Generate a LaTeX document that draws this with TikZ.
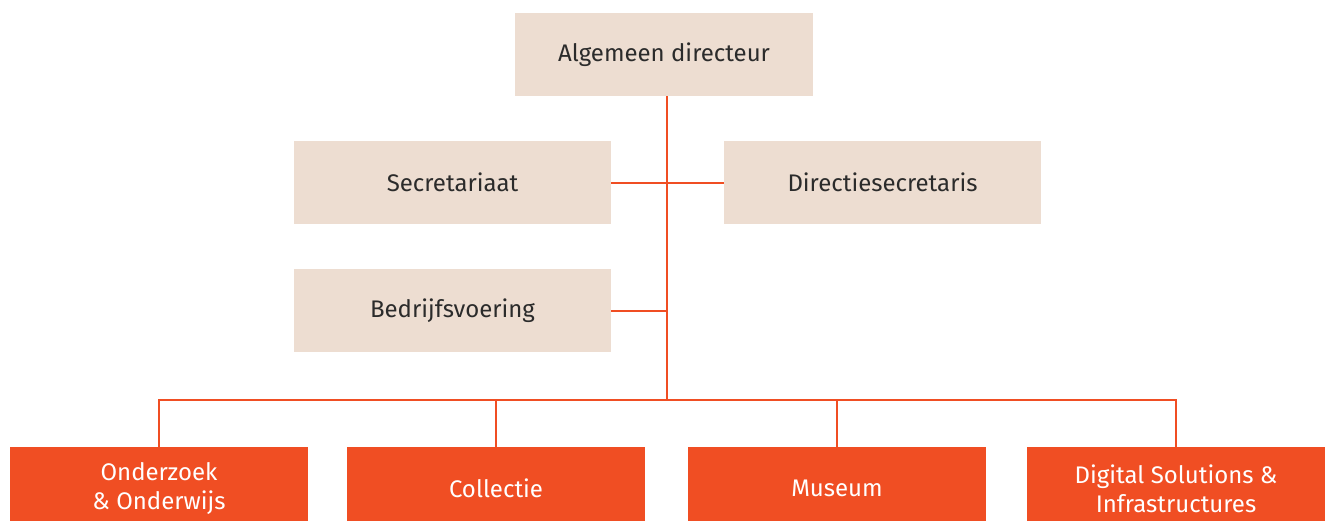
\documentclass[tikz,border=0pt]{standalone}
\usepackage{fontspec}
\setmainfont{Fira Sans}
\usepackage{xcolor}
\usetikzlibrary{positioning,calc}
\definecolor{beige}{HTML}{EDDDD1}
\definecolor{oranje}{HTML}{F04E23}
\definecolor{ink}{HTML}{2B2B2B}
\begin{document}
\begin{tikzpicture}[x=1pt, y=-1pt]
  \tikzset{
    staf/.style={fill=beige, text=ink, minimum width=317pt, minimum height=83pt, inner sep=0pt, font=\fontsize{24}{28}\selectfont, align=center},
    top/.style={staf, minimum width=298pt},
    afd/.style={fill=oranje, text=white, minimum width=298pt, minimum height=83pt, inner sep=0pt, font=\fontsize{24}{29}\selectfont, align=center},
    link/.style={draw=oranje, line width=2pt}
  }
  \useasboundingbox (0,0) rectangle (1325,520);
  \clip (0,0) rectangle (1325,520);

  \def\busy{400}

  % directie
  \node[top] (dir) at (664,54.5) {Algemeen directeur};
  \node[staf] (sec) at (452.5,182.5) {Secretariaat};
  \node[staf] (dsec) at (882.5,182.5) {Directiesecretaris};
  \node[staf] (bdv) at (452.5,310.5) {Bedrijfsvoering};

  % afdelingen
  \node[afd] (ond) at (159,488.5) {Onderzoek\\\& Onderwijs};
  \node[afd] (col) at (496,488.5) {Collectie};
  \node[afd] (mus) at (837,488.5) {Museum};
  \node[afd] (dig) at (1176,488.5) {Digital Solutions \&\\Infrastructures};

  \coordinate (bus) at (667,\busy);

  % lijnen
  \draw[link] (dir.south -| bus) -- (bus);
  \draw[link] (sec.east) -- (dsec.west);
  \draw[link] (bdv.east) -- (bdv.east -| bus);
  \draw[link] (ond.north) -- (ond.north |- bus) -- (dig.north |- bus) -- (dig.north);
  \draw[link] (col.north) -- (col.north |- bus);
  \draw[link] (mus.north) -- (mus.north |- bus);
\end{tikzpicture}
\end{document}
